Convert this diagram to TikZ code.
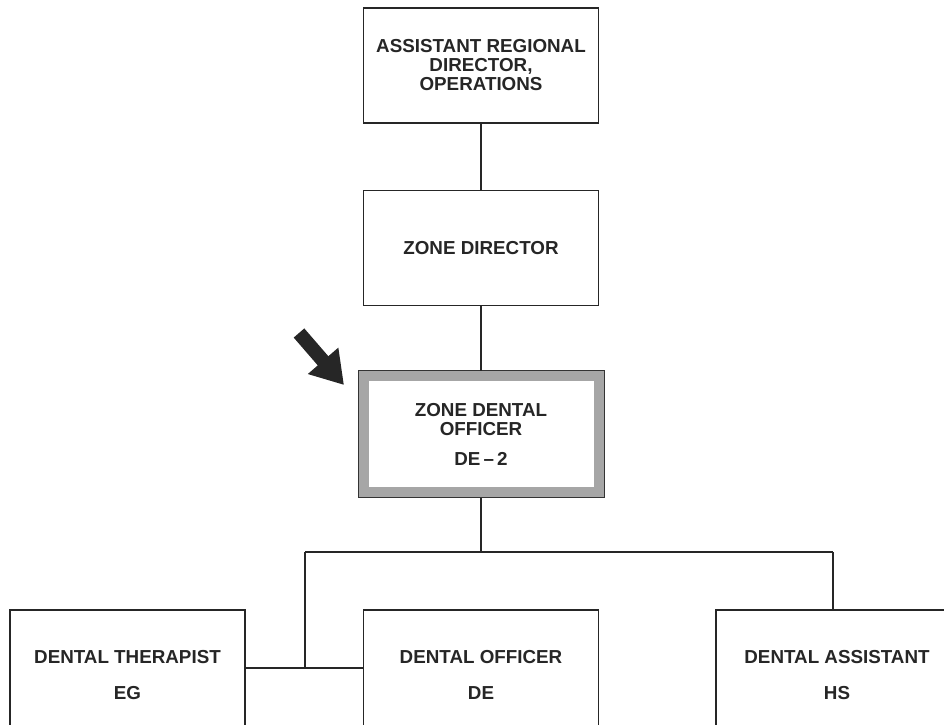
\documentclass[tikz,border=0pt]{standalone}
\usepackage{fontspec}
\setmainfont{Liberation Sans}
\usetikzlibrary{arrows.meta}
\begin{document}
\begin{tikzpicture}[x=1pt,y=-1pt,
  orgbox/.style={draw=black!85, line width=1.8pt, minimum width=235pt, minimum height=115pt,
    align=center, inner sep=0pt, text=black!85, font=\bfseries\fontsize{18.8}{19}\selectfont},
  lowbox/.style={orgbox, anchor=north, minimum height=130pt},
  keybox/.style={orgbox, draw=gray!70, line width=10.5pt, minimum width=235.5pt, minimum height=116.5pt},
  conn/.style={draw=black!85, line width=1.8pt},
  pointer/.style={line width=14pt, -{Triangle[length=32pt,width=38pt]}}
]
\useasboundingbox (0,0) rectangle (944,724);
\clip (0,0) rectangle (944,724);

\node[orgbox] (ard) at (481,65.5) {ASSISTANT REGIONAL\\DIRECTOR,\\OPERATIONS};
\node[orgbox] (zd) at (481,248) {ZONE DIRECTOR};
\node[keybox] (zdo) at (481,434) {ZONE DENTAL\\OFFICER\\[11pt]DE\,--\,2};
\draw[gray!40!black, line width=0.6pt] (zdo.north west) rectangle (zdo.south east);

\node[lowbox] (dt) at (127.5,609) {DENTAL THERAPIST\\[17pt]EG};
\node[lowbox] (do) at (481,609) {DENTAL OFFICER\\[17pt]DE};
\node[lowbox, minimum width=242pt] (da) at (837,609) {DENTAL ASSISTANT\\[17pt]HS};

\coordinate (busL) at (305,552);
\coordinate (busR) at (833,552);
\coordinate (join) at (305,668);
\coordinate (arrtail) at (299,333);
\coordinate (arrtip) at (344,385);

\draw[conn] (ard.south) -- (zd.north);
\draw[conn] (zd.south) -- (zdo.north);
\draw[conn] (zdo.south) -- (zdo.south |- busL);
\draw[conn] (busL) -- (busR);
\draw[conn] (busR) -- (busR |- da.north);
\draw[conn] (busL) -- (join);
\draw[conn] (dt.east |- join) -- (do.west |- join);

\draw[pointer, black!85] (arrtail) -- (arrtip);
\end{tikzpicture}
\end{document}
